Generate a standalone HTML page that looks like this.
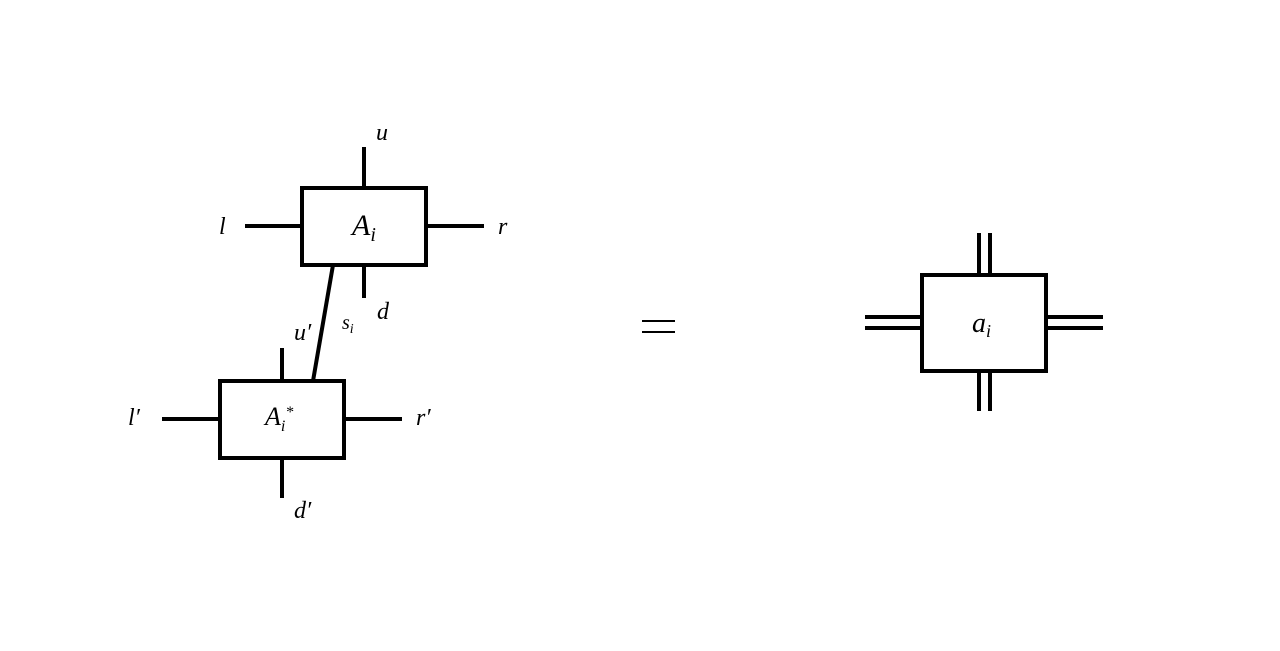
<!DOCTYPE html>
<html><head><style>
html,body{margin:0;padding:0;background:#fff;}
svg text{font-family:"Liberation Serif",serif;font-style:italic;fill:#000;}
</style></head><body>
<svg width="1280" height="646" viewBox="0 0 1280 646" xmlns="http://www.w3.org/2000/svg">
<g stroke="#000" stroke-width="4" fill="none">
<rect x="302" y="188" width="124" height="77"/>
<line x1="364" y1="147" x2="364" y2="188"/>
<line x1="245" y1="226" x2="302" y2="226"/>
<line x1="426" y1="226" x2="484" y2="226"/>
<line x1="364" y1="265" x2="364" y2="298"/>
<line x1="333" y1="265" x2="313" y2="381"/>
<rect x="220" y="381" width="124" height="77"/>
<line x1="282" y1="348" x2="282" y2="381"/>
<line x1="162" y1="419" x2="220" y2="419"/>
<line x1="344" y1="419" x2="402" y2="419"/>
<line x1="282" y1="458" x2="282" y2="498"/>
<rect x="922" y="275" width="124" height="96"/>
<line x1="979" y1="233" x2="979" y2="275"/>
<line x1="990" y1="233" x2="990" y2="275"/>
<line x1="979" y1="371" x2="979" y2="411"/>
<line x1="990" y1="371" x2="990" y2="411"/>
<line x1="865" y1="317" x2="922" y2="317"/>
<line x1="865" y1="328" x2="922" y2="328"/>
<line x1="1046" y1="317" x2="1103" y2="317"/>
<line x1="1046" y1="328" x2="1103" y2="328"/>
</g>
<g stroke="#000" stroke-width="2">
<line x1="642" y1="321" x2="675" y2="321"/>
<line x1="642" y1="332" x2="675" y2="332"/>
</g>
<text x="376" y="140" font-size="24">u</text>
<text x="219" y="234" font-size="24">l</text>
<text x="498" y="234" font-size="24">r</text>
<text x="352" y="235" font-size="30">A<tspan font-size="20" dy="6">i</tspan></text>
<text x="377" y="319" font-size="24">d</text>
<text x="342" y="329" font-size="20">s<tspan font-size="14" dy="4">i</tspan></text>
<text x="294" y="340" font-size="24">u′</text>
<text x="128" y="425" font-size="24">l′</text>
<text x="416" y="425" font-size="24">r′</text>
<text x="265" y="425" font-size="26">A<tspan font-size="16" dy="6">i</tspan><tspan font-size="16" dy="-14">*</tspan></text>
<text x="294" y="518" font-size="24">d′</text>
<text x="972" y="332" font-size="28">a<tspan font-size="18" dy="5">i</tspan></text>
</svg>
</body></html>
